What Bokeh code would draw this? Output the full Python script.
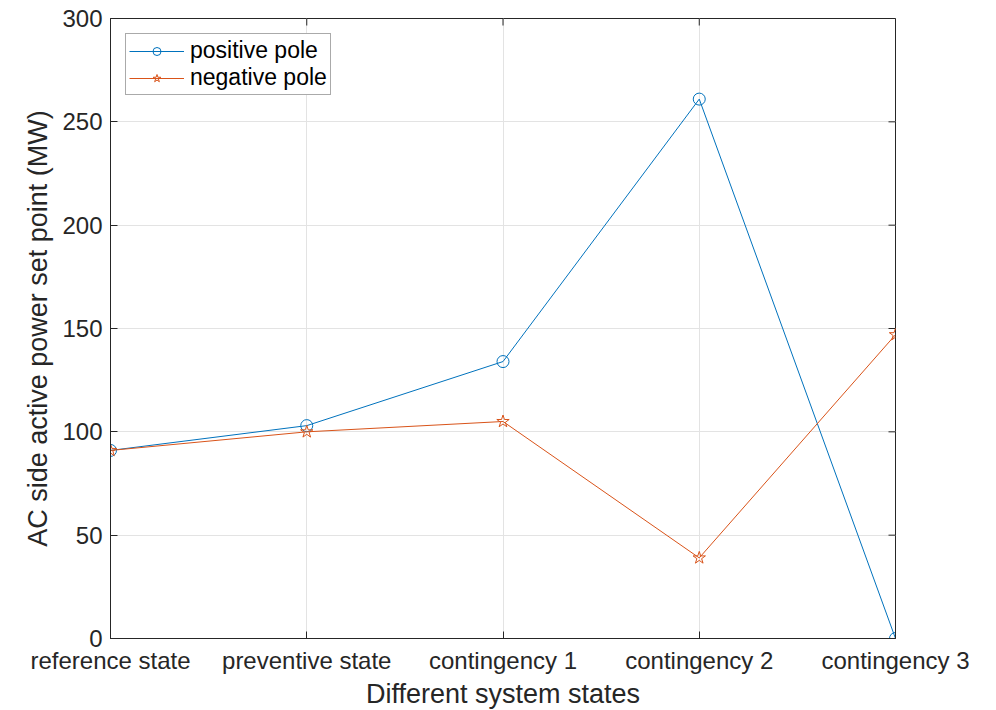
from bokeh.plotting import figure
from bokeh.models import FixedTicker, Range1d, Legend, LegendItem, ColumnDataSource
from bokeh.embed import file_html
from bokeh.resources import INLINE

categories = ["reference state", "preventive state", "contingency 1", "contingency 2", "contingency 3"]
positive_pole = [91, 103, 134, 261, 0]
negative_pole = [91, 100, 105, 39, 147]
y_ticks = [0, 50, 100, 150, 200, 250, 300]

xs = list(range(1, len(categories) + 1))
FONT = "Liberation Sans"
DARK = "#262626"
FRAME_W, FRAME_H = 785, 620
TICK = 7
X0, X1, Y0, Y1 = 1, 5, 0, 300

p = figure(frame_width=FRAME_W, frame_height=FRAME_H, output_backend="svg", toolbar_location=None,
           x_range=Range1d(X0, X1), y_range=Range1d(Y0, Y1),
           min_border_left=110, min_border_right=95, min_border_top=18, min_border_bottom=60)

p.outline_line_color = DARK
p.outline_line_width = 1
p.background_fill_color = "white"
p.border_fill_color = "white"

src = ColumnDataSource(dict(x=xs, pos=positive_pole, neg=negative_pole))

l1 = p.line("x", "pos", source=src, line_color="#0072BD", line_width=1)
m1 = p.scatter("x", "pos", source=src, marker="circle", size=12, fill_color=None,
               line_color="#0072BD", line_width=1)
l2 = p.line("x", "neg", source=src, line_color="#D95319", line_width=1)
m2 = p.scatter("x", "neg", source=src, marker="star", size=13, fill_color=None,
               line_color="#D95319", line_width=1)

# mirrored inward ticks on the top and right sides of the box
dy = TICK * (Y1 - Y0) / FRAME_H
dx = TICK * (X1 - X0) / FRAME_W
p.segment(x0=xs, y0=[Y1] * len(xs), x1=xs, y1=[Y1 - dy] * len(xs), line_color=DARK, line_width=1)
p.segment(x0=[X1] * len(y_ticks), y0=y_ticks, x1=[X1 - dx] * len(y_ticks), y1=y_ticks,
          line_color=DARK, line_width=1)

p.xaxis.ticker = FixedTicker(ticks=xs)
p.xaxis.major_label_overrides = {x: c for x, c in zip(xs, categories)}
p.yaxis.ticker = FixedTicker(ticks=y_ticks)

for ax in (p.xaxis[0], p.yaxis[0]):
    ax.major_tick_in = TICK
    ax.major_tick_out = 0
    ax.minor_tick_in = 0
    ax.minor_tick_out = 0
    ax.axis_line_color = DARK
    ax.major_tick_line_color = DARK
    ax.major_label_text_font = FONT
    ax.major_label_text_font_size = "24px"
    ax.major_label_text_color = DARK
    ax.axis_label_text_font = FONT
    ax.axis_label_text_font_size = "27px"
    ax.axis_label_text_font_style = "normal"
    ax.axis_label_text_color = DARK

p.xaxis.axis_label = "Different system states"
p.yaxis.axis_label = "AC side active power set point (MW)"
p.xaxis.major_label_standoff = 8
p.xaxis.axis_label_standoff = 2
p.yaxis.major_label_standoff = 8
p.yaxis.axis_label_standoff = 6

p.xgrid.grid_line_color = "#e3e3e3"
p.ygrid.grid_line_color = "#e3e3e3"
p.xgrid.ticker = FixedTicker(ticks=xs)
p.ygrid.ticker = FixedTicker(ticks=y_ticks)

legend = Legend(items=[LegendItem(label="positive pole", renderers=[l1, m1]),
                       LegendItem(label="negative pole", renderers=[l2, m2])],
                location="top_left")
legend.label_text_font = FONT
legend.label_text_font_size = "23px"
legend.label_text_color = "black"
legend.border_line_color = "#555555"
legend.border_line_width = 1
legend.glyph_width = 55
legend.glyph_height = 20
legend.label_standoff = 6
legend.label_height = 20
legend.spacing = 0
legend.padding = 3
legend.margin = 15
legend.background_fill_alpha = 1
p.add_layout(legend)

open("out.html", "w").write(file_html(p, INLINE))
